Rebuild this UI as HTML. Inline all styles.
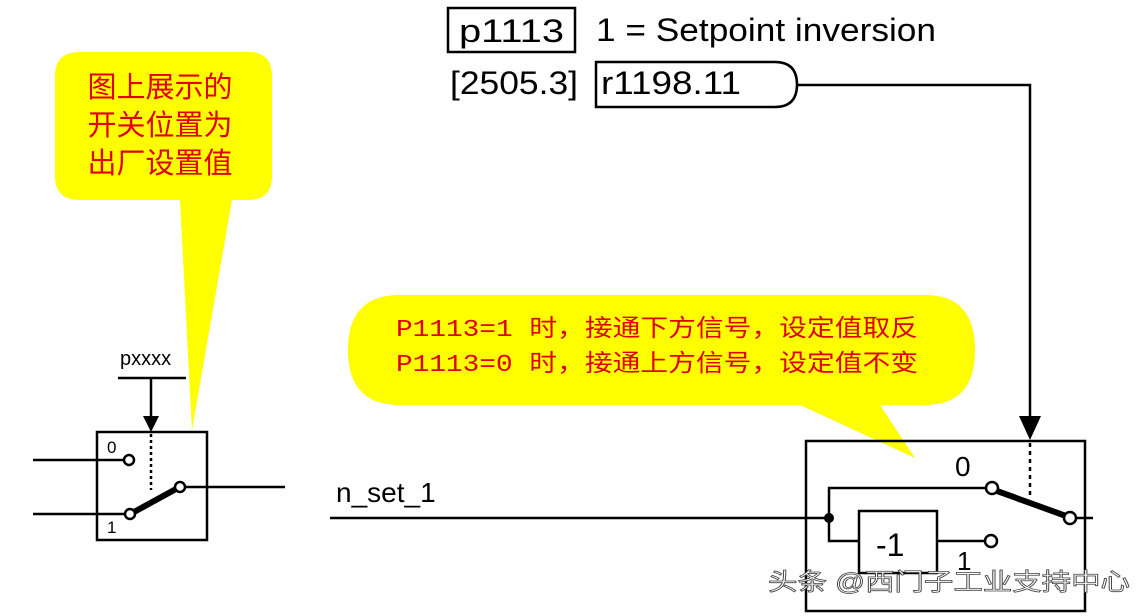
<!DOCTYPE html>
<html><head><meta charset="utf-8"><style>
body{margin:0;background:#fff}
svg{display:block}
</style></head><body>
<svg width="1148" height="616" viewBox="0 0 1148 616" font-family="Liberation Sans, Noto Sans CJK SC, sans-serif">
<rect width="1148" height="616" fill="#fff"/>
<!-- bubble 1 -->
<path d="M80,52 H248 Q272,52 272,76 V176 Q272,200 248,200 H232 L192,430 L180,200 H80 Q55,200 55,176 V76 Q55,52 80,52 Z" fill="#ffff00"/>
<text x="160" y="97" font-size="29" fill="#e00000" text-anchor="middle">图上展示的</text>
<text x="160" y="135" font-size="29" fill="#e00000" text-anchor="middle">开关位置为</text>
<text x="160" y="173" font-size="29" fill="#e00000" text-anchor="middle">出厂设置值</text>
<!-- bubble 2 -->
<path d="M400,295 H925 Q975,295 975,350 Q975,405 925,405 H880 L915,458 L800,405 H400 Q348,405 348,350 Q348,295 400,295 Z" fill="#ffff00"/>
<text x="396" y="336" font-size="24" fill="#e00000" textLength="522" lengthAdjust="spacingAndGlyphs" style="font-family:'Liberation Mono','Noto Sans CJK SC',monospace">P1113=1 时，接通下方信号，设定值取反</text>
<text x="396" y="371" font-size="24" fill="#e00000" textLength="522" lengthAdjust="spacingAndGlyphs" style="font-family:'Liberation Mono','Noto Sans CJK SC',monospace">P1113=0 时，接通上方信号，设定值不变</text>
<g stroke="#000" fill="none" stroke-width="2.5">
<rect x="448" y="8" width="127" height="44"/>
<path d="M596,62 H775 Q797,62 797,84.5 Q797,107 775,107 H596 Z"/>
<polyline points="797,85 1030,85 1030,420"/>
<rect x="97" y="432" width="110" height="108"/>
<line x1="118" y1="378" x2="186" y2="378"/>
<line x1="151" y1="378" x2="151" y2="418"/>
<line x1="151" y1="434" x2="151" y2="490" stroke-dasharray="3,3"/>
<line x1="33" y1="460" x2="124" y2="460"/>
<line x1="33" y1="514" x2="125" y2="514"/>
<line x1="134" y1="512" x2="176" y2="489" stroke-width="6"/>
<line x1="185" y1="487" x2="285" y2="487"/>
<rect x="806" y="441" width="279" height="170"/>
<line x1="1030" y1="443" x2="1030" y2="495" stroke-dasharray="4,4"/>
<line x1="330" y1="518" x2="829" y2="518"/>
<polyline points="986,488 829,488 829,541 859,541"/>
<rect x="859" y="511" width="78" height="62"/>
<line x1="937" y1="541" x2="985" y2="541"/>
<line x1="997" y1="491" x2="1066" y2="516" stroke-width="6"/>
<line x1="1077" y1="518" x2="1093" y2="518"/>
</g>
<g fill="#fff" stroke="#000" stroke-width="2.5">
<circle cx="129" cy="460" r="5"/>
<circle cx="130" cy="514" r="5"/>
<circle cx="180" cy="487" r="5"/>
<circle cx="992" cy="488" r="6"/>
<circle cx="1070" cy="518" r="6"/>
<circle cx="991" cy="541" r="6"/>
</g>
<circle cx="829" cy="518" r="5" fill="#000"/>
<polygon points="143,416 159,416 151,432" fill="#000"/>
<polygon points="1019,416 1041,416 1030,440" fill="#000"/>
<text x="459" y="42" font-size="32" textLength="105" lengthAdjust="spacingAndGlyphs">p1113</text>
<text x="596" y="41" font-size="32" textLength="340" lengthAdjust="spacingAndGlyphs">1 = Setpoint inversion</text>
<text x="450" y="94" font-size="32" textLength="128" lengthAdjust="spacingAndGlyphs">[2505.3]</text>
<text x="601" y="94" font-size="32" textLength="140" lengthAdjust="spacingAndGlyphs">r1198.11</text>
<text x="120" y="365" font-size="20">pxxxx</text>
<text x="107" y="453" font-size="17">0</text>
<text x="107" y="533" font-size="17">1</text>
<text x="336" y="502" font-size="28">n_set_1</text>
<text x="955" y="476" font-size="28">0</text>
<text x="876" y="556" font-size="32">-1</text>
<text x="957" y="570" font-size="26">1</text>
<text x="768" y="590" font-size="24" fill="#fff" stroke="#444" stroke-width="0.8" textLength="362" lengthAdjust="spacingAndGlyphs">头条 @西门子工业支持中心</text>
</svg>
</body></html>
